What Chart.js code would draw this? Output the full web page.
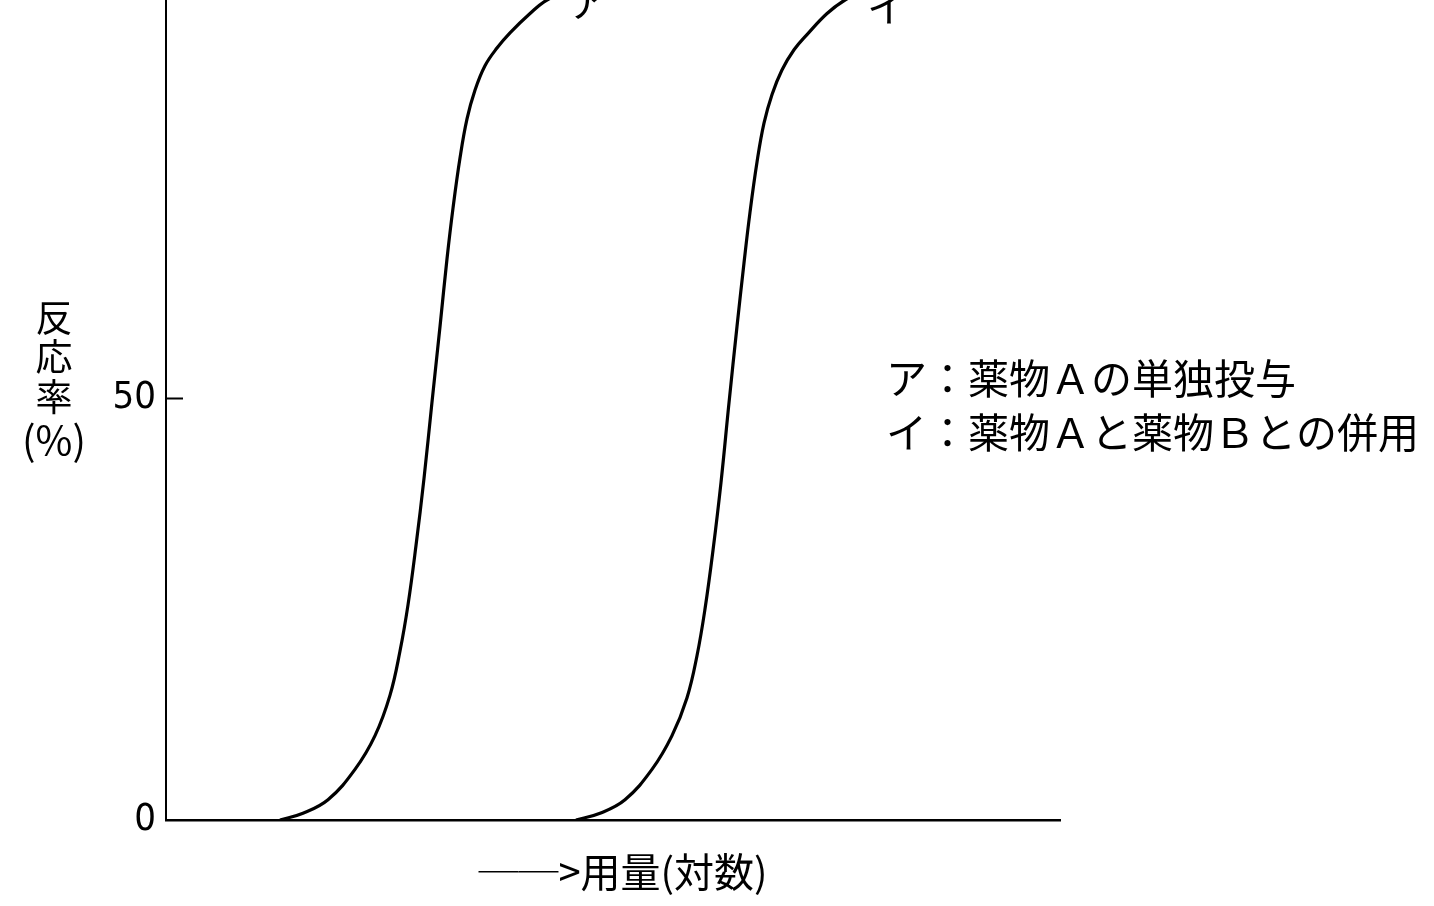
<!DOCTYPE html>
<html>
<head>
<meta charset="utf-8">
<script src="https://cdn.jsdelivr.net/npm/chart.js@4/dist/chart.umd.min.js"></script>
<style>
  html, body { margin: 0; padding: 0; background: #fff; }
  #wrap { width: 1434px; height: 906px; }
</style>
</head>
<body>
<div id="wrap"><canvas id="c" width="1434" height="906"></canvas></div>
<script>
// ---- data ----
// x: log dose (arbitrary units 0..100 along the axis), y: response rate (%)
const doseA      = [12.75, 15.32, 18.12, 21.14, 23.38, 25.06, 26.17, 27.07, 27.96, 28.86, 29.75, 30.65, 31.43, 32.10, 32.89, 33.67, 34.56, 35.68, 37.02, 38.48, 40.72, 42.62, 45.75, 49.66];
const responseA  = [0,     0.8,   2.4,   6.0,   10.0,  14.8,  20.0,  25.5,  32.5,  40.5,  49.5,  58.5,  66.5,  72.5,  78.5,  83.1,  86.5,  89.4,  91.5,  93.3,  95.6,  97.2,  98.6,  99.5];
const doseAB     = [45.86, 48.55, 51.34, 54.36, 56.60, 58.28, 59.40, 60.29, 61.19, 62.08, 62.98, 63.87, 64.65, 65.32, 66.11, 66.89, 67.79, 68.90, 70.25, 71.70, 73.94, 75.95, 78.75, 82.66];
const responseAB = [0,     0.8,   2.4,   6.0,   10.0,  14.5,  19.5,  25.0,  32.0,  40.0,  49.5,  58.5,  66.0,  72.0,  78.0,  82.6,  86.0,  88.9,  91.3,  93.1,  95.6,  97.2,  98.6,  99.5];
const yTickValues = [0, 50];
const curveLabels = ['ア', 'イ'];
const legendLines = ['ア：薬物Ａの単独投与', 'イ：薬物Ａと薬物Ｂとの併用'];
const yTitleChars = ['反', '応', '率', '(%)'];
const xTitle = '\u2002──>用量(対数)';

const JP = '"Noto Sans CJK JP", "Noto Sans", sans-serif';

const toPts = (xs, ys) => xs.map((v, i) => ({ x: v, y: ys[i] }));

const extras = {
  id: 'extras',
  beforeDraw(chart) {
    const ctx = chart.ctx;
    ctx.save();
    ctx.fillStyle = '#fff';
    ctx.fillRect(0, 0, chart.width, chart.height);
    ctx.restore();
  },
  afterDraw(chart) {
    const { ctx, scales: { x, y } } = chart;
    ctx.save();
    // inward tick at 50
    ctx.strokeStyle = '#000';
    ctx.lineWidth = 2;
    const p50 = Math.round(y.getPixelForValue(50)) + 0.5;
    ctx.beginPath();
    ctx.moveTo(x.left, p50);
    ctx.lineTo(x.left + 17, p50);
    ctx.stroke();

    ctx.fillStyle = '#000';
    // stacked y-axis title
    ctx.textAlign = 'center';
    ctx.textBaseline = 'middle';
    const yc = [318, 357, 397, 440];
    yTitleChars.forEach((ch, i) => {
      ctx.font = (i === 3 ? '40px ' : '37px ') + JP;
      ctx.fillText(ch, 54, yc[i]);
    });

    // curve labels at top (partially cut off)
    ctx.font = '40px ' + JP;
    ctx.fillText(curveLabels[0], 588, 2);
    ctx.fillText(curveLabels[1], 887, 7);

    // legend text
    ctx.textAlign = 'left';
    ctx.font = '41px ' + JP;
    ctx.fillText(legendLines[0], 886, 378);
    ctx.fillText(legendLines[1], 886, 432);
    ctx.restore();
  }
};

new Chart(document.getElementById('c'), {
  type: 'line',
  data: {
    datasets: [
      { label: 'ア', data: toPts(doseA, responseA) },
      { label: 'イ', data: toPts(doseAB, responseAB) }
    ]
  },
  options: {
    responsive: false,
    animation: false,
    devicePixelRatio: 1,
    layout: { padding: { left: 0, right: 374, top: 0, bottom: 0 } },
    elements: {
      line: { borderColor: '#000', borderWidth: 3.2, fill: false, tension: 0.4 },
      point: { radius: 0 }
    },
    plugins: { legend: { display: false }, tooltip: { enabled: false } },
    scales: {
      x: {
        type: 'linear', min: 0, max: 100,
        grid: { display: false, drawTicks: false },
        border: { display: true, color: '#000', width: 2.5 },
        ticks: { display: false },
        title: {
          display: true, text: xTitle, color: '#000',
          font: { family: JP, size: 40 },
          padding: { top: 0, bottom: 10 }
        },
        afterFit(s) { s.height = 86; s.paddingLeft = 0; s.paddingRight = 0; }
      },
      y: {
        type: 'linear', min: 0, max: 97.2,
        grid: { display: false, drawTicks: false },
        border: { display: true, color: '#000', width: 2 },
        afterBuildTicks(s) { s.ticks = yTickValues.map(v => ({ value: v })); },
        ticks: {
          color: '#000', padding: 10,
          font: { family: '"Liberation Sans Narrow", "DejaVu Sans Condensed", Roboto, sans-serif', size: 38 },
          callback: v => String(v)
        },
        afterFit(s) { s.width = 166; s.paddingTop = 0; s.paddingBottom = 0; }
      }
    }
  },
  plugins: [extras]
});
</script>
</body>
</html>
